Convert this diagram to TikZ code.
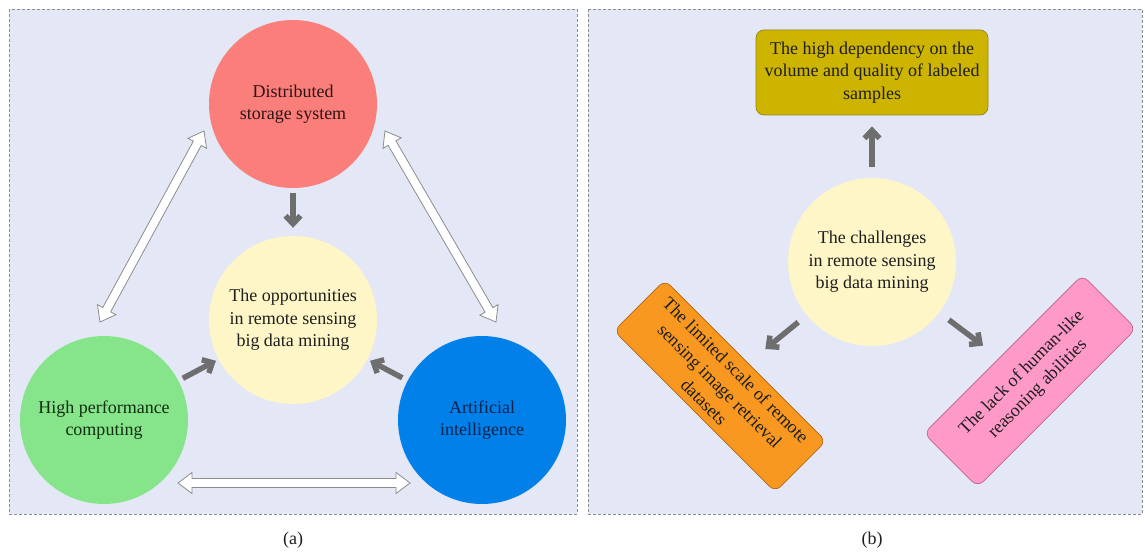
\documentclass[tikz,border=0pt]{standalone}
\usepackage{fontspec}
\setmainfont{Liberation Serif}
\usetikzlibrary{calc,arrows.meta}
\definecolor{panelbg}{RGB}{228,232,246}
\definecolor{framegray}{RGB}{140,140,140}
\definecolor{cred}{RGB}{250,126,122}
\definecolor{cyel}{RGB}{255,246,200}
\definecolor{cgreen}{RGB}{134,228,138}
\definecolor{cblue}{RGB}{0,128,232}
\definecolor{colive}{RGB}{205,180,0}
\definecolor{colivedk}{RGB}{150,132,20}
\definecolor{corange}{RGB}{248,152,32}
\definecolor{corangedk}{RGB}{180,100,20}
\definecolor{cpink}{RGB}{255,153,200}
\definecolor{cpinkdk}{RGB}{190,100,140}
\definecolor{arrowgray}{RGB}{110,110,110}
\definecolor{wborder}{RGB}{140,140,140}
\definecolor{tred}{RGB}{45,20,20}
\definecolor{tgreen}{RGB}{15,45,15}
\definecolor{tblue}{RGB}{10,35,75}
\definecolor{tdark}{RGB}{30,30,30}
\newcommand\dblarr[2]{%
  \coordinate (#1h) at ($(#1)!14pt!(#2)$);
  \coordinate (#2h) at ($(#2)!14pt!(#1)$);
  \draw[whitearrow] (#1)
    -- ($(#1h)!10.5pt!90:(#2)$) -- ($(#1h)!4.5pt!90:(#2)$)
    -- ($(#2h)!4.5pt!-90:(#1)$) -- ($(#2h)!10.5pt!-90:(#1)$)
    -- (#2)
    -- ($(#2h)!10.5pt!90:(#1)$) -- ($(#2h)!4.5pt!90:(#1)$)
    -- ($(#1h)!4.5pt!-90:(#2)$) -- ($(#1h)!10.5pt!-90:(#2)$)
    -- cycle;
}
\begin{document}
\begin{tikzpicture}[x=1pt,y=-1pt,
  every node/.style={font=\fontsize{18}{22.5}\selectfont, text=tdark},
  panel/.style={fill=panelbg, draw=framegray, line width=0.7pt, dash pattern=on 3pt off 2pt},
  bigcircle/.style={circle, minimum size=168pt, inner sep=0pt, align=center},
  rbox/.style={rounded corners=8pt, inner sep=0pt, align=center, line width=0.7pt},
  grayarrow/.style={draw=arrowgray, line width=5.5pt, -{Straight Barb[length=8pt,width=15pt]}},
  whitearrow/.style={fill=white, draw=wborder, line width=0.8pt, line join=miter}
]
\useasboundingbox (0,0) rectangle (1145,553);
\path[fill=white] (0,0) rectangle (1145,553);
\path[panel] (9,9) rectangle (577,514);
\path[panel] (588,9) rectangle (1142,514);

% ---------- panel (a) ----------
\node[bigcircle, fill=cred, text=tred] (red) at (293,104) {Distributed\\storage system};
\node[bigcircle, fill=cyel] (opp) at (293,320) {The opportunities\\in remote sensing\\big data mining};
\node[bigcircle, fill=cgreen, text=tgreen] (hpc) at (104,420) {High performance\\computing};
\node[bigcircle, fill=cblue, text=tblue] (ai) at (482,420) {Artificial\\intelligence};

\draw[grayarrow, shorten <=5pt, shorten >=8pt] (red) -- (opp);
\draw[grayarrow, shorten <=5pt, shorten >=3pt] (hpc) -- (opp);
\draw[grayarrow, shorten <=6pt, shorten >=3pt] (ai) -- (opp);

\coordinate (la) at (204,131);
\coordinate (lb) at (100,322);
\coordinate (ra) at (385,131);
\coordinate (rb) at (496,322);
\coordinate (ba) at (178,483);
\coordinate (bb) at (410,483);
\dblarr{la}{lb}
\dblarr{ra}{rb}
\dblarr{ba}{bb}

\node (capa) at (293,540) {(a)};

% ---------- panel (b) ----------
\node[bigcircle, fill=cyel] (chal) at (872,262) {The challenges\\in remote sensing\\big data mining};
\node[rbox, fill=colive, draw=colivedk, minimum width=232pt, minimum height=85pt] (dep) at (872,72.5)
  {The high dependency on the\\volume and quality of labeled\\samples};
\node[rbox, fill=corange, draw=corangedk, minimum width=228pt, minimum height=72pt, rotate=-45] (lim) at (720,386)
  {The limited scale of remote\\sensing image retrieval\\datasets};
\node[rbox, fill=cpink, draw=cpinkdk, minimum width=224pt, minimum height=76pt, rotate=45] (lack) at (1030,381)
  {The lack of human-like\\reasoning abilities};

\draw[grayarrow, shorten <=11pt, shorten >=11pt] (chal) -- (dep);
\draw[grayarrow, shorten <=11pt, shorten >=22pt] (chal) -- (lim);
\draw[grayarrow, shorten <=12pt, shorten >=20pt] (chal) -- (lack);

\node (capb) at (872,540) {(b)};
\end{tikzpicture}
\end{document}
